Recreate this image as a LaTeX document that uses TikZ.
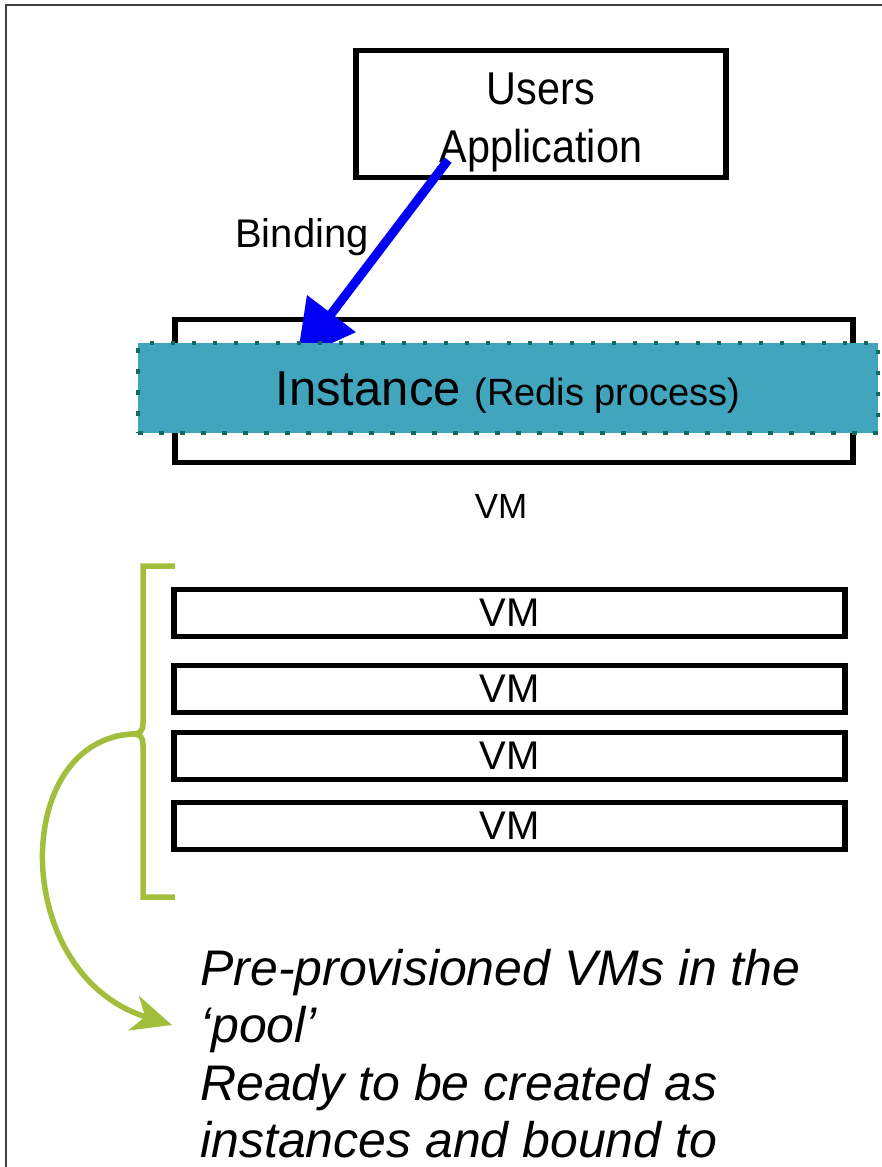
\documentclass[tikz,border=0pt]{standalone}
\usepackage{fontspec}
\setmainfont{Liberation Sans}
\newfontfamily\narrowfont{Liberation Sans}[FakeStretch=0.9]
\usetikzlibrary{arrows.meta}
\definecolor{bandfill}{RGB}{65,165,189}
\definecolor{banddot}{RGB}{20,105,98}
\definecolor{poolgreen}{RGB}{163,190,60}
\definecolor{bindblue}{RGB}{0,0,245}
\tikzset{
  box/.style={draw=black,line width=5.5pt,inner sep=0pt},
  vmbox/.style={box,minimum width=671pt,minimum height=47pt,
    font=\fontsize{40}{44}\selectfont},
  band/.style={fill=bandfill,draw=banddot,line width=4.5pt,
    dash pattern=on 4.5pt off 16.5pt,minimum width=740pt,minimum height=90pt,inner sep=0pt},
  pool/.style={draw=poolgreen,line width=5.5pt},
}
\begin{document}
\begin{tikzpicture}[x=1pt,y=-1pt]
      \useasboundingbox (0,0) rectangle (882,1167);
      \draw[black!75,line width=2pt] (6,1167) -- (6,5) -- (882,5);
      \node[box,minimum width=370pt,minimum height=127pt] (app) at (541,114) {};
      \node[align=center,font=\narrowfont\fontsize{46}{58}\selectfont] (apptext) at (541,122)
        {Users\\Application};
      \node[box,minimum width=678pt,minimum height=143pt] (vm0) at (514,391) {};
      \coordinate (bindfrom) at (448,160);
      \coordinate (bindto) at (297,359);
      \draw[bindblue,line width=9pt,-{Triangle[length=57pt,width=59pt]}] (bindfrom) -- (bindto);
      \node[font=\fontsize{40}{44}\selectfont] (bind) at (302,237) {Binding};
      \node[band,text height=35pt,text depth=0pt] (inst) at (508,388)
        {\fontsize{49}{54}\selectfont Instance \fontsize{38}{42}\selectfont(Redis process)};
      \node[font=\fontsize{35}{40}\selectfont] (vmlabel) at (501,506) {VM};
      \foreach \y/\n in {613/1,689/2,756/3,826/4}
        \node[vmbox] (vm\n) at (509.5,\y) {VM};
      \coordinate (cusp) at (133,734);
      \coordinate (tip) at (172,1025);
      \draw[pool] (175,566) -- (143,566) -- (143,723)
        .. controls (143,731) and (140,734) .. (cusp)
        .. controls (140,734) and (143,737) .. (143,745) -- (143,897) -- (175,897);
      \draw[pool,-{Stealth[length=40pt,width=36pt,inset=12pt]}] (cusp)
        .. controls (10,740) and (10,975) .. (tip);
      \node[anchor=north west,align=left,inner sep=0pt,
        font=\itshape\fontsize{50}{57.5}\selectfont] (poolnote) at (200,949)
        {Pre-provisioned VMs in the\\`pool'\\Ready to be created as\\instances and bound to};
    \end{tikzpicture}
\end{document}
